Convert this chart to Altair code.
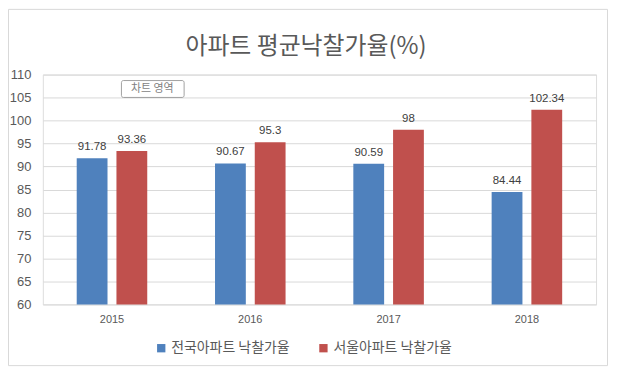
import altair as alt
import pandas as pd

years = ["2015", "2016", "2017", "2018"]
nation = [91.78, 90.67, 90.59, 84.44]
seoul = [93.36, 95.3, 98, 102.34]
series_names = ["전국아파트 낙찰가율", "서울아파트 낙찰가율"]
colors = ["#4F81BD", "#C0504D"]
title_text = "아파트 평균낙찰가율(%)"
y_ticks = list(range(60, 111, 5))

rows = []
for i, y in enumerate(years):
    rows.append({"year": y, "series": series_names[0], "value": nation[i], "label": f"{nation[i]:g}"})
    rows.append({"year": y, "series": series_names[1], "value": seoul[i], "label": f"{seoul[i]:g}"})
df = pd.DataFrame(rows)

W, H = 556, 231
FONT = "Noto Sans CJK KR"
LFONT = "Liberation Sans"

x = alt.X("year:N", title=None,
          scale=alt.Scale(paddingInner=0.49, paddingOuter=0.245),
          axis=alt.Axis(labelAngle=0, labelFont=LFONT, labelFontSize=11, labelColor="#595959",
                        labelPadding=9, domain=False, ticks=False))
xo = alt.XOffset("series:N", sort=series_names, scale=alt.Scale(paddingInner=0.225, paddingOuter=0))
y = alt.Y("value:Q", title=None,
          scale=alt.Scale(domain=[60, 110], nice=False, zero=False, clamp=True),
          axis=alt.Axis(values=y_ticks, labelFont=LFONT, labelFontSize=13, labelColor="#595959",
                        labelPadding=12, domain=False, ticks=False, grid=True,
                        gridColor="#D9D9D9", gridWidth=1))

base = alt.Chart(df)

bars = base.mark_bar().encode(
    x=x, xOffset=xo, y=y, y2=alt.datum(60),
    color=alt.Color("series:N", sort=series_names,
                    scale=alt.Scale(domain=series_names, range=colors),
                    legend=alt.Legend(title=None, orient="none", direction="horizontal",
                                      legendX=112, legendY=37 + H, symbolType="square",
                                      symbolSize=70, symbolStrokeWidth=0,
                                      labelFont=FONT, labelFontSize=14, labelColor="#595959",
                                      columnPadding=26, labelOffset=3)),
)

labels = base.mark_text(baseline="bottom", dy=-6, font=LFONT, fontSize=11.5, color="#404040").encode(
    x=x, xOffset=xo, y=y, text="label:N"
)

title = alt.Chart(pd.DataFrame({"t": [title_text]})).mark_text(
    font=FONT, fontSize=24, color="#595959", align="center", baseline="middle"
).encode(x=alt.value(W / 2 - 13.5), y=alt.value(-28), text="t:N")

# Excel "chart area" tooltip
tip_box = alt.Chart(pd.DataFrame({"t": ["차트 영역"]})).mark_rect(
    fill="white", stroke="#8A8A8A", strokeWidth=0.8, cornerRadius=2
).encode(x=alt.value(79), x2=alt.value(142), y=alt.value(6), y2=alt.value(23))
tip_text = alt.Chart(pd.DataFrame({"t": ["차트 영역"]})).mark_text(
    font=FONT, fontSize=11, color="#7F7F7F", align="center", baseline="middle"
).encode(x=alt.value(110), y=alt.value(15), text="t:N")

frame = alt.Chart(pd.DataFrame({"t": [0]})).mark_rect(
    fill=None, stroke="#D9D9D9", strokeWidth=1
).encode(x=alt.value(-34.5), x2=alt.value(W + 11.5), y=alt.value(-65.5), y2=alt.value(H + 61.5))

chart = alt.layer(frame, title, bars, labels, tip_box, tip_text).properties(
    width=W, height=H,
    autosize=alt.AutoSizeParams(type="none"),
    padding={"left": 35, "top": 66, "right": 13, "bottom": 62},
).configure_view(stroke=None).configure(background="white")

chart.save("out.html", embed_options={"renderer": "svg", "actions": False})
